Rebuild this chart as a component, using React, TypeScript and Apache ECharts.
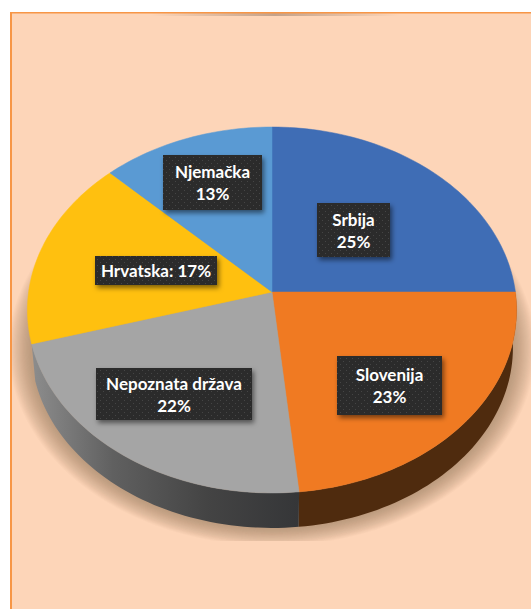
import React, { useEffect, useRef } from "react";
import * as echarts from "echarts";

const countries = ["Srbija", "Slovenija", "Nepoznata država", "Hrvatska", "Njemačka"];
const shares = [25, 23.4, 22.1, 16.9, 12.6];
const labelLines = [["Srbija", "25%"], ["Slovenija", "23%"], ["Nepoznata država", "22%"], ["Hrvatska: 17%"], ["Njemačka", "13%"]];

const topColors = ["#3F6DB5", "#F07A22", "#A5A5A5", "#FFC00F", "#5A9AD3"];
const boxes = [[317, 203, 73, 54], [337, 356, 105, 59], [96, 368, 156, 52], [95, 256, 122, 29], [163, 155, 99, 55]];

const CX = 272, CY = 292, B = 243.4, A = 181.2, K = 0.0983;
const DEPTH = 38, SHRINK = 0.985;
const PANEL = "#FDD5B8";
const SHADOW_LAYERS = 20;

function top(t: number) {
  const a = t * 2 * Math.PI;
  const u = Math.sin(a), v = -Math.cos(a), w = 1 - K * v;
  return [CX + (B * u) / w, CY + (A * v) / w];
}
function bottom(t: number) {
  const p = top(t);
  return [CX + (p[0] - CX) * SHRINK, CY + (p[1] - CY) * SHRINK + DEPTH];
}
function arc(f: (t: number) => number[], s: number, e: number) {
  const n = Math.max(4, Math.ceil((e - s) * 240));
  const out: number[][] = [];
  for (let i = 0; i <= n; i++) out.push(f(s + ((e - s) * i) / n));
  return out;
}
const wallFill = (i: number) =>
  i === 1
    ? "#4F2B0E"
    : {
        type: "linear", x: 33, y: 0, x2: 300, y2: 0, global: true,
        colorStops: [
          { offset: 0, color: "#8C8C8C" },
          { offset: 0.3, color: "#606060" },
          { offset: 0.65, color: "#444444" },
          { offset: 1, color: "#353638" },
        ],
      };

function dotPattern() {
  const c = document.createElement("canvas");
  c.width = 6; c.height = 6;
  const g = c.getContext("2d")!;
  g.fillStyle = "#2B2B2B"; g.fillRect(0, 0, 6, 6);
  g.fillStyle = "#454545";
  g.fillRect(1, 1, 1, 1); g.fillRect(4, 4, 1, 1);
  return c.toDataURL();
}

export default function App() {
  const ref = useRef<HTMLDivElement>(null);
  useEffect(() => {
    const chart = echarts.init(ref.current!, null, { renderer: "svg" });
    const total = shares.reduce((a, b) => a + b, 0);
    const starts: number[] = [];
    shares.reduce((acc, v, i) => ((starts[i] = acc / total), acc + v), 0);
    const data = shares.map((v, i) => ({ name: countries[i], value: v }));
    const img = new Image();
    const pattern = dotPattern();
    const shadowLayers = Array.from({ length: SHADOW_LAYERS }, (_, k) => {
      const f = 1 + (SHADOW_LAYERS - k) * 0.0046;
      return {
        type: "polygon",
        shape: { points: arc(bottom, 0, 1).map(([x, y]) => [CX + (x - CX) * f, 335 + (y - 335) * f]) },
        style: { fill: "rgba(150,110,80,0.036)" },
      };
    });
    const draw = () => {
      chart.setOption({
        animation: false,
        backgroundColor: "#FFFFFF",
        graphic: [
          { type: "rect", z: 0, shape: { x: 10, y: 12, width: 521, height: 597 }, style: { fill: PANEL } },
          {
            type: "rect", z: 0, shape: { x: 150, y: 13, width: 250, height: 3 },
            style: {
              fill: {
                type: "linear", x: 0, y: 0, x2: 1, y2: 0,
                colorStops: [
                  { offset: 0, color: "rgba(150,120,100,0)" },
                  { offset: 0.5, color: "rgba(150,120,100,0.55)" },
                  { offset: 1, color: "rgba(150,120,100,0)" },
                ],
              },
            },
          },
          { type: "rect", z: 0, shape: { x: 10, y: 12, width: 521, height: 1.5 }, style: { fill: "#F79646" } },
        ],
        xAxis: { show: false, min: 0, max: 1 },
        yAxis: { show: false, min: 0, max: 1 },
        grid: { left: 0, right: 0, top: 0, bottom: 0 },
        series: [
          {
            type: "custom", coordinateSystem: "none", z: 1, silent: true, clip: false,
            data: [1],
            renderItem: () => ({
              type: "group",
              children: [
                ...shadowLayers,
                { type: "rect", shape: { x: 10, y: 541, width: 521, height: 68 }, style: { fill: PANEL } },
                { type: "rect", shape: { x: 0, y: 12, width: 10, height: 597 }, style: { fill: "#FFFFFF" } },
                { type: "rect", shape: { x: 10, y: 12, width: 2, height: 597 }, style: { fill: "#F79646" } },
              ],
            }),
          },
          {
            type: "custom", coordinateSystem: "none", z: 2, silent: true,
            data,
            renderItem: (p: any, api: any) => {
              const i = p.dataIndex;
              if (i !== 1 && i !== 2) return { type: "group", children: [] };
              const s = starts[i], e = s + api.value(0) / total;
              return {
                type: "polygon",
                shape: { points: [...arc(top, s, e), ...arc(bottom, s, e).reverse()] },
                style: { fill: wallFill(i) },
              };
            },
            encode: { value: 0 },
          },
          {
            type: "custom", coordinateSystem: "none", z: 3, silent: true,
            data,
            renderItem: (p: any, api: any) => {
              const i = p.dataIndex;
              const s = starts[i], e = s + api.value(0) / total;
              return {
                type: "polygon",
                shape: { points: [[CX, CY], ...arc(top, s, e)] },
                style: { fill: topColors[i], stroke: topColors[i], lineWidth: 0.5 },
              };
            },
            encode: { value: 0 },
          },
          {
            type: "custom", coordinateSystem: "none", z: 4, silent: true,
            data,
            renderItem: (p: any) => {
              const i = p.dataIndex;
              const [x, y, w, h] = boxes[i];
              const lines = labelLines[i];
              const lh = 22;
              const y0 = y + h / 2 - ((lines.length - 1) * lh) / 2;
              return {
                type: "group",
                children: [
                  {
                    type: "rect",
                    shape: { x, y, width: w, height: h },
                    style: { fill: "#2B2B2B", shadowBlur: 5, shadowColor: "rgba(0,0,0,0.5)", shadowOffsetX: 2, shadowOffsetY: 3 },
                  },
                  {
                    type: "rect",
                    shape: { x, y, width: w, height: h },
                    style: { fill: { image: img, repeat: "repeat" } },
                  },
                  ...lines.map((t, j) => ({
                    type: "text",
                    x: x + w / 2,
                    y: y0 + j * lh,
                    style: {
                      text: t, fill: "#FFFFFF", align: "center", verticalAlign: "middle",
                      font: "bold 17px Lato",
                    },
                  })),
                ],
              };
            },
            encode: { value: 0 },
          },
        ],
      });
    };
    img.onload = draw;
    img.src = pattern;
    draw();
    return () => chart.dispose();
  }, []);
  return <div ref={ref} style={{ width: 531, height: 609, position: "absolute", left: 0, top: 0 }} />;
}
